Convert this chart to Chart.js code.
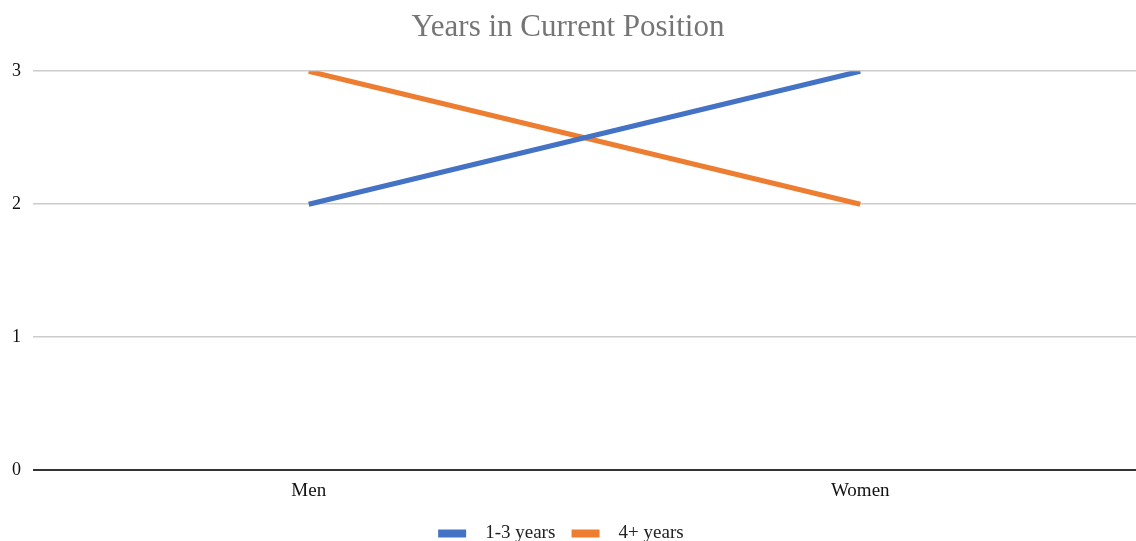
<!DOCTYPE html>
<html>
<head>
<meta charset="utf-8">
<script src="https://cdn.jsdelivr.net/npm/chart.js@4/dist/chart.umd.min.js"></script>
<style>
  html, body { margin: 0; padding: 0; background: #fff; }
  #wrap { width: 1136px; height: 541px; }
</style>
</head>
<body>
<div id="wrap"><canvas id="graficoAnios"></canvas></div>
<script>
// categorias y series
const categorias = ["Men", "Women"];
const serieCorta = [2, 3];   // 1-3 years
const serieLarga = [3, 2];   // 4+ years
const nombresSeries = ["1-3 years", "4+ years"];
const ticksY = [0, 1, 2, 3];

const fuente = "'Liberation Serif', 'Times New Roman', serif";

const ctx = document.getElementById("graficoAnios").getContext("2d");

new Chart(ctx, {
    type: "line",
    data: {
        labels: categorias,
        datasets: [{
            label: nombresSeries[0],
            data: serieCorta,
            borderColor: "#4472C4",
            backgroundColor: "#4472C4",
            borderWidth: 5,
            pointRadius: 0,
            tension: 0
        }, {
            label: nombresSeries[1],
            data: serieLarga,
            borderColor: "#ED7D31",
            backgroundColor: "#ED7D31",
            borderWidth: 5,
            pointRadius: 0,
            tension: 0
        }]
    },
    options: {
        responsive: true,
        maintainAspectRatio: false,
        animation: false,
        layout: { padding: { left: 0, right: 0, top: 4, bottom: -12 } },
        plugins: {
            title: {
                display: true,
                text: "Years in Current Position",
                color: "#757575",
                font: { family: fuente, size: 31, weight: "normal" },
                padding: { top: 5, bottom: 25 }
            },
            legend: {
                position: "bottom",
                labels: {
                    color: "#222",
                    font: { family: fuente, size: 19 },
                    boxWidth: 28,
                    boxHeight: 8,
                    padding: 2,
                    // muestra plana, sin borde, y algo de aire alrededor del texto
                    generateLabels: chart => Chart.defaults.plugins.legend.labels.generateLabels(chart)
                        .map(l => ({ ...l, lineWidth: 0, text: "  " + l.text + "   " }))
                }
            },
            tooltip: { enabled: false }
        },
        scales: {
            x: {
                offset: true,
                grid: { display: false },
                border: { display: false },
                ticks: {
                    color: "#111",
                    font: { family: fuente, size: 19 },
                    padding: 1
                },
                afterFit: axis => { axis.height += 19; }
            },
            y: {
                min: 0,
                max: 3,
                afterBuildTicks: axis => { axis.ticks = ticksY.map(v => ({ value: v })); },
                border: { display: false },
                grid: {
                    drawTicks: false,
                    color: c => c.tick.value === 0 ? "#333" : "#cccccc",
                    lineWidth: c => c.tick.value === 0 ? 2 : 1.5
                },
                ticks: {
                    color: "#111",
                    font: { family: fuente, size: 18 },
                    padding: 12
                }
            }
        }
    }
});
</script>
</body>
</html>
